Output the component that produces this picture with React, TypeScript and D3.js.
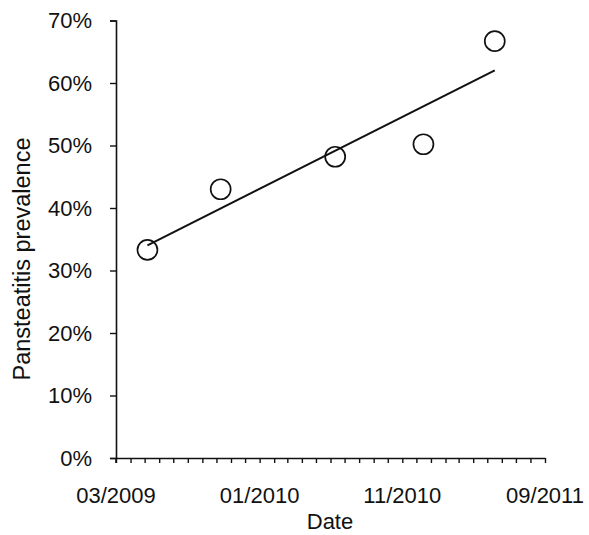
import React, { useRef, useEffect } from 'react';
import * as d3 from 'd3';

// Survey dates and pansteatitis prevalence (fraction)
const surveyDates = ['2009-05-07', '2009-10-10', '2010-06-11', '2010-12-16', '2011-05-17'];
const prevalence = [0.333, 0.43, 0.482, 0.502, 0.667];

const xTickLabels = ['2009-03-01', '2010-01-01', '2010-11-01', '2011-09-01'];
const yTicks = [0, 0.1, 0.2, 0.3, 0.4, 0.5, 0.6, 0.7];

const App = () => {
  const svgRef = useRef<SVGSVGElement>(null);

  const width = 589;
  const height = 535;
  const margin = { top: 20.5, right: 44, bottom: 77, left: 116 };

  useEffect(() => {
    const parse = d3.timeParse('%Y-%m-%d');
    const data = surveyDates.map((d, i) => ({ date: parse(d) as Date, value: prevalence[i] }));
    const labelDates = xTickLabels.map((d) => parse(d) as Date);

    const svg = d3.select(svgRef.current);
    svg.selectAll('*').remove();

    const x = d3
      .scaleTime()
      .domain([labelDates[0], labelDates[labelDates.length - 1]])
      .range([margin.left, width - margin.right]);

    const y = d3
      .scaleLinear()
      .domain([0, 0.7])
      .range([height - margin.bottom, margin.top]);

    const font = 'Arial, "Liberation Sans", sans-serif';

    // minor month ticks on x axis
    const xAxis = svg
      .append('g')
      .attr('transform', `translate(0, ${height - margin.bottom})`)
      .call(
        d3
          .axisBottom(x)
          .ticks(d3.timeMonth.every(1))
          .tickSize(5)
          .tickSizeOuter(0)
          .tickFormat(() => '')
      );
    xAxis.select('.domain').attr('stroke', '#111').attr('stroke-width', 1.6);
    xAxis.selectAll('.tick line').attr('stroke', '#111').attr('stroke-width', 1.4);

    // x labels every 10 months
    svg
      .append('g')
      .selectAll('text')
      .data(labelDates)
      .enter()
      .append('text')
      .attr('x', (d) => x(d))
      .attr('y', 502.5)
      .attr('text-anchor', 'middle')
      .attr('font-family', font)
      .attr('font-size', 22)
      .attr('fill', '#111')
      .text((d) => d3.timeFormat('%m/%Y')(d));

    const yAxis = svg
      .append('g')
      .attr('transform', `translate(${margin.left}, 0)`)
      .call(
        d3
          .axisLeft(y)
          .tickValues(yTicks)
          .tickSize(6)
          .tickSizeOuter(6)
          .tickPadding(18)
          .tickFormat((d) => `${Math.round(+d * 100)}%`)
      );
    yAxis.select('.domain').attr('stroke', '#111').attr('stroke-width', 1.6);
    yAxis.selectAll('.tick line').attr('stroke', '#111').attr('stroke-width', 1.4);
    yAxis
      .selectAll('text')
      .attr('font-family', font)
      .attr('font-size', 22)
      .attr('fill', '#111');

    // y axis stub below origin
    svg
      .append('line')
      .attr('x1', margin.left)
      .attr('x2', margin.left)
      .attr('y1', height - margin.bottom)
      .attr('y2', height - margin.bottom + 5)
      .attr('stroke', '#111')
      .attr('stroke-width', 1.6);

    // linear trendline (least squares on time)
    const xs = data.map((d) => +d.date);
    const ys = data.map((d) => d.value);
    const mx = d3.mean(xs) as number;
    const my = d3.mean(ys) as number;
    const slope =
      d3.sum(xs, (v, i) => (v - mx) * (ys[i] - my)) / d3.sum(xs, (v) => (v - mx) * (v - mx));
    const ends = [xs[0], xs[xs.length - 1]].map((t) => ({ t, v: my + slope * (t - mx) }));

    svg
      .append('path')
      .datum(ends)
      .attr('fill', 'none')
      .attr('stroke', '#111')
      .attr('stroke-width', 2)
      .attr(
        'd',
        d3
          .line<{ t: number; v: number }>()
          .x((d) => x(new Date(d.t)))
          .y((d) => y(d.v))
      );

    svg
      .append('g')
      .selectAll('circle')
      .data(data)
      .enter()
      .append('circle')
      .attr('cx', (d) => x(d.date))
      .attr('cy', (d) => y(d.value))
      .attr('r', 10)
      .attr('fill', 'none')
      .attr('stroke', '#111')
      .attr('stroke-width', 1.7);

    // axis titles
    svg
      .append('text')
      .attr('x', 330)
      .attr('y', 529)
      .attr('text-anchor', 'middle')
      .attr('font-family', font)
      .attr('font-size', 22)
      .attr('fill', '#111')
      .text('Date');

    svg
      .append('text')
      .attr('transform', `translate(30, 259) rotate(-90)`)
      .attr('text-anchor', 'middle')
      .attr('font-family', font)
      .attr('font-size', 23.5)
      .attr('fill', '#111')
      .text('Pansteatitis prevalence');
  }, []);

  return (
    <svg
      ref={svgRef}
      width={width}
      height={height}
      style={{ position: 'absolute', left: 0, top: 0, background: '#fff' }}
    />
  );
};

export default App;
